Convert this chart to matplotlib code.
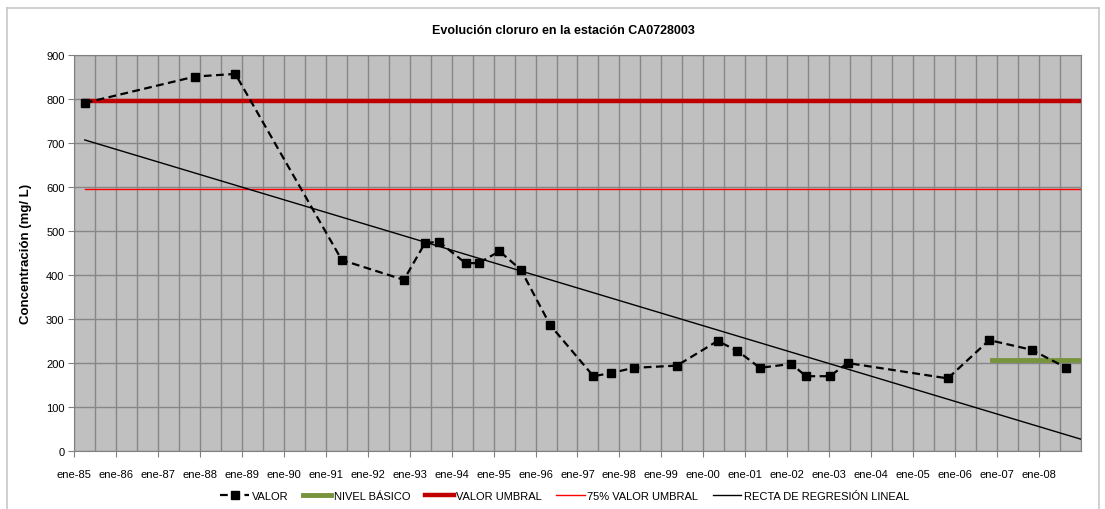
import matplotlib as mpl
mpl.use('Agg')
import matplotlib.pyplot as plt
from matplotlib.lines import Line2D
from matplotlib import font_manager
import numpy as np

# fechas en años decimales
fechas = [1985.25, 1987.88, 1988.84, 1991.38, 1992.86, 1993.36, 1993.69,
          1994.33, 1994.64, 1995.14, 1995.65, 1996.35, 1997.38, 1997.79,
          1998.34, 1999.37, 2000.34, 2000.81, 2001.35, 2002.10, 2002.45,
          2003.02, 2003.44, 2005.83, 2006.82, 2007.83, 2008.66]
valor = [791, 851, 857, 434, 389, 472, 476,
         427, 427, 454, 412, 286, 170, 177,
         189, 194, 250, 228, 189, 198, 170,
         170, 200, 165, 252, 230, 189]

nivel_x = [2006.88, 2009.0]
nivel_y = [207, 207]
umbral_x = [1985.25, 2009.0]
umbral_y = [795, 795]
umbral75_y = [596, 596]
reg_x = [1985.25, 2009.0]
reg_y = [707, 27]

anios = list(range(1985, 2009))
etiquetas = ['ene-%02d' % (a % 100) for a in anios]

nombres = {f.name for f in font_manager.fontManager.ttflist}
if 'Liberation Sans Narrow' in nombres:
    fuente = ['Liberation Sans Narrow', 'DejaVu Sans']
    tam = 9
else:
    fuente = ['Liberation Sans', 'DejaVu Sans']
    tam = 8
plt.rcParams['font.family'] = fuente

fig = plt.figure(figsize=(11.05, 5.1), dpi=100)
ax = fig.add_axes([0.0672, 0.1137, 0.9108, 0.7765])
ax.set_facecolor('#c0c0c0')

ax.plot(umbral_x, umbral_y, color='#c00000', lw=3.2, zorder=3)
ax.plot(umbral_x, umbral75_y, color='#ff0000', lw=1.0, zorder=3)
ax.plot(reg_x, reg_y, color='black', lw=1.0, zorder=3)
ax.plot(nivel_x, nivel_y, color='#77933c', lw=3.5, zorder=4)
ax.plot(fechas, valor, color='black', lw=1.6, ls=(0, (3.5, 2)), marker='s',
        ms=6, zorder=5)

ax.set_xlim(1985, 2009)
ax.set_ylim(0, 900)
ax.set_yticks(range(0, 1000, 100))
ax.set_xticks(anios)
ax.set_xticklabels(etiquetas)
ax.set_xticks(np.arange(1985, 2009.01, 0.5), minor=True)
ax.tick_params(axis='x', which='minor', length=0)
ax.tick_params(axis='both', labelsize=tam, color='#808080', length=4, pad=9)
ax.tick_params(axis='y', pad=3)
ax.grid(True, which='both', axis='x', color='#878787', lw=1.0)
ax.grid(True, which='major', axis='y', color='#878787', lw=1.0)
ax.set_axisbelow(True)
for s in ax.spines.values():
    s.set_color('#808080')

ax.set_ylabel('Concentración (mg/ L)', fontsize=tam + 1.5, fontweight='bold',
              labelpad=10)
fig.text(0.51, 0.94, 'Evolución cloruro en la estación CA0728003',
         ha='center', va='center', fontsize=tam + 1, fontweight='bold')

handles = [
    Line2D([], [], color='black', lw=1.6, ls=(0, (3.5, 2)), marker='s', ms=6),
    Line2D([], [], color='#77933c', lw=3.5),
    Line2D([], [], color='#c00000', lw=3.2),
    Line2D([], [], color='#ff0000', lw=1.0),
    Line2D([], [], color='black', lw=1.0),
]
labels = ['VALOR', 'NIVEL BÁSICO', 'VALOR UMBRAL', '75% VALOR UMBRAL',
          'RECTA DE REGRESIÓN LINEAL']
fig.legend(handles, labels, loc='center', bbox_to_anchor=(0.511, 0.026),
           ncol=5, frameon=False, fontsize=tam, handlelength=2.6,
           handletextpad=0.2, columnspacing=1.3)

# marco exterior del gráfico
fig.add_artist(Line2D([0.006, 0.995], [0.983, 0.983], color='#c8c8c8', lw=1.2,
                      transform=fig.transFigure))
fig.add_artist(Line2D([0.006, 0.006], [0.0, 0.983], color='#c8c8c8', lw=1.2,
                      transform=fig.transFigure))
fig.add_artist(Line2D([0.995, 0.995], [0.0, 0.983], color='#c8c8c8', lw=1.2,
                      transform=fig.transFigure))

fig.savefig('out.png', dpi=100)
